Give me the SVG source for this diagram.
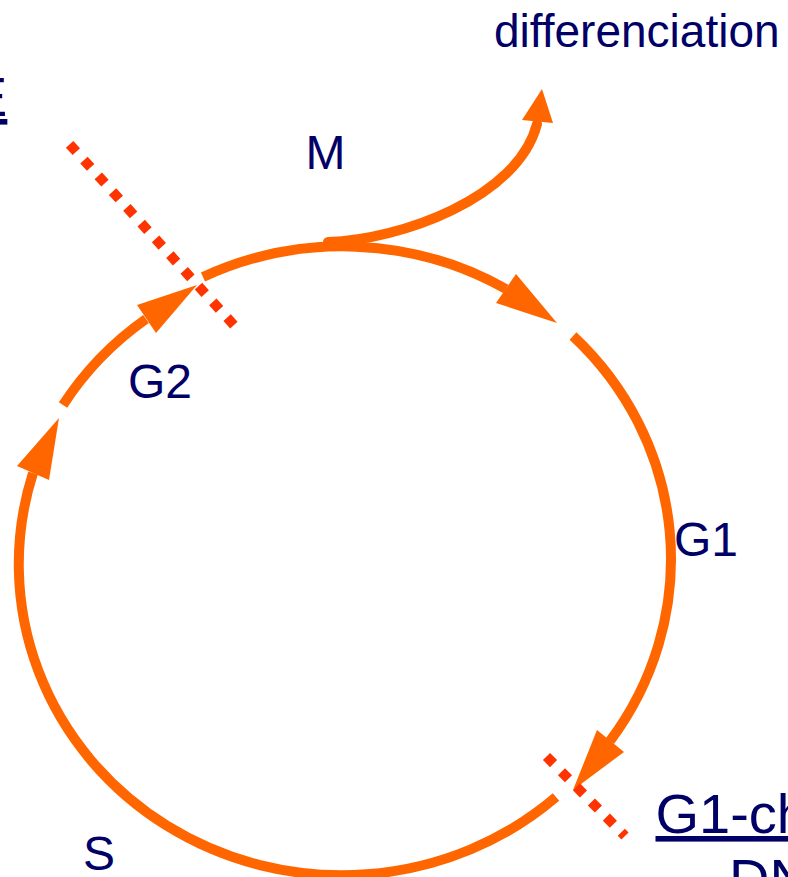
<svg xmlns="http://www.w3.org/2000/svg" width="788" height="877" viewBox="0 0 788 877">
<style>
.arc{fill:none;stroke:#ff6600;stroke-width:10}
.head{fill:#ff6600;stroke:none}
.chk{fill:none;stroke:#ff3300;stroke-width:10;stroke-dasharray:10 11.3}
.lbl{font-family:"Liberation Sans",Arial,sans-serif;fill:#000066}
.big{font-size:56px;text-decoration:underline}
</style>
<rect width="788" height="877" fill="#ffffff"/>
<g id="connectors">
<path class="arc" d="M 203 277 A 323 311 0 0 1 506 289"/>
<polygon class="head" points="557,323 496,303 516,274"/>
<path class="arc" d="M 573 336 A 323 311 0 0 1 610 741"/>
<polygon class="head" points="573,790 597,730 624,752"/>
<path class="arc" d="M 556 797 A 323 311 0 0 1 33 473"/>
<polygon class="head" points="59,418 17,466 49,480"/>
<path class="arc" d="M 63 405 A 323 311 0 0 1 146 319"/>
<polygon class="head" points="197,285 137,305 156,333"/>
<path class="arc" stroke-linecap="round" d="M 328 242 C 400 240, 518 198, 537 124"/>
<polygon class="head" points="542,89 522,120 553,123"/>
</g>
<g id="checkpoints">
<line class="chk" x1="69.6" y1="144.3" x2="236" y2="327.5"/>
<line class="chk" x1="546.5" y1="756.5" x2="625" y2="836"/>
</g>
<g id="label-differenciation"><text class="lbl" x="494" y="47" font-size="46">differenciation</text></g>
<g id="label-M"><text class="lbl" x="305.5" y="169" font-size="48">M</text></g>
<g id="label-G2"><text class="lbl" x="128" y="398" font-size="48">G2</text></g>
<g id="label-G1"><text class="lbl" x="674" y="556" font-size="48">G1</text></g>
<g id="label-S"><text class="lbl" x="83" y="870" font-size="48">S</text></g>
<g id="label-E"><text class="lbl big" x="-30" y="116">E</text></g>
<g id="label-G1-ch"><text class="lbl big" x="655.5" y="833">G1-ch</text></g>
<g id="label-DN"><text class="lbl" x="729" y="898" font-size="56">DN</text></g>
</svg>
